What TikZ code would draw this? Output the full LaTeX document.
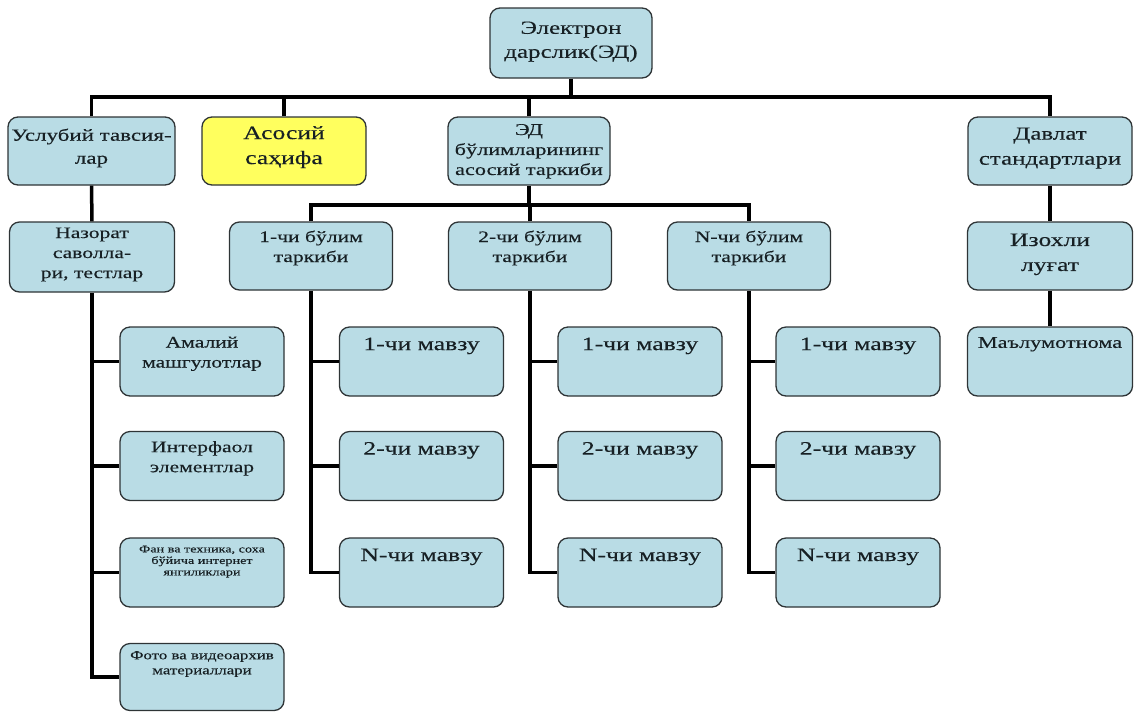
\documentclass[tikz,border=0pt]{standalone}
\usepackage{fontspec}
\setmainfont{Liberation Serif}[FakeStretch=1.35, FakeBold=0.3]

\definecolor{boxblue}{HTML}{B9DCE5}
\definecolor{boxyellow}{HTML}{FFFF5E}
\definecolor{boxline}{HTML}{2E3436}
\definecolor{boxtext}{HTML}{172024}

\newcommand{\boxfont}[2]{\fontsize{#1}{#2}\selectfont}

\tikzset{
  cbox/.style={draw=boxline, line width=1.3pt, fill=boxblue, rounded corners=10pt,
    minimum width=164pt, minimum height=69pt, inner sep=0pt},
  ybox/.style={cbox, fill=boxyellow},
  txt/.style={anchor=north, align=center, inner sep=0pt, text=boxtext},
  link/.style={line width=3.5pt, black},
}

\begin{document}
\begin{tikzpicture}[x=1pt, y=-1pt]
  \useasboundingbox (0,0) rectangle (1134,713);

  % top
  \node[cbox, minimum width=162pt, minimum height=70pt] (darslik) at (571,43) {};
  \node[txt, font=\boxfont{18.5}{24}] (darslik-t) at ([yshift=-14pt]darslik.north) {Электрон\\дарслик(ЭД)};

  % first row
  \node[cbox, minimum width=167pt, minimum height=68pt] (uslub) at (91.5,151) {};
  \node[txt, font=\boxfont{17}{23}] (uslub-t) at ([yshift=-12pt]uslub.north) {Услубий тавсия-\\лар};

  \node[ybox, minimum height=68pt] (asosiy) at (284,151) {};
  \node[txt, font=\boxfont{19}{25}] (asosiy-t) at ([yshift=-9.5pt]asosiy.north) {Асосий\\саҳифа};

  \node[cbox, minimum width=162pt, minimum height=68pt] (tarkib) at (529,151) {};
  \node[txt, font=\boxfont{16.5}{20}] (tarkib-t) at ([yshift=-7.5pt]tarkib.north) {ЭД\\бўлимларининг\\асосий таркиби};

  \node[cbox, minimum width=164pt, minimum height=68pt] (davlat) at (1050,151) {};
  \node[txt, font=\boxfont{18.5}{25}] (davlat-t) at ([yshift=-11pt]davlat.north) {Давлат\\стандартлари};

  % second row
  \node[cbox, minimum width=165pt, minimum height=70pt] (nazorat) at (92,257) {};
  \node[txt, font=\boxfont{16}{20}] (nazorat-t) at ([yshift=-6pt]nazorat.north) {Назорат\\саволла-\\ри, тестлар};

  \foreach \s/\x/\n in {1/311/1, 2/530/2, N/749/N}{
    \node[cbox, minimum width=163pt, minimum height=68pt] (bulim\s) at (\x,256) {};
    \node[txt, font=\boxfont{16}{20}] (bulim\s-t) at ([yshift=-9pt]bulim\s.north) {\n-чи бўлим\\таркиби};
  }

  \node[cbox, minimum width=165pt, minimum height=68pt] (izoh) at (1050,256) {};
  \node[txt, font=\boxfont{19}{25}] (izoh-t) at ([yshift=-12pt]izoh.north) {Изохли\\луғат};

  \node[cbox, minimum width=165pt] (malumot) at (1050,361.5) {};
  \node[txt, font=\boxfont{16.5}{20}] (malumot-t) at ([yshift=-10.5pt]malumot.north) {Маълумотнома};

  % left column
  \node[cbox] (amaliy) at (202,361.5) {};
  \node[txt, font=\boxfont{16}{20}] (amaliy-t) at ([yshift=-10pt]amaliy.north) {Амалий\\машгулотлар};

  \node[cbox] (interf) at (202,466) {};
  \node[txt, font=\boxfont{16}{20}] (interf-t) at ([yshift=-10pt]interf.north) {Интерфаол\\элементлар};

  \node[cbox] (fan) at (202,572.5) {};
  \node[txt, font=\boxfont{10.5}{11.5}] (fan-t) at ([yshift=-8pt]fan.north) {Фан ва техника, соха\\бўйича интернет\\янгиликлари};

  \node[cbox, minimum height=67pt] (foto) at (202,677) {};
  \node[txt, font=\boxfont{12.5}{15}] (foto-t) at ([yshift=-8pt]foto.north) {Фото ва видеоархив\\материаллари};

  % topics
  \foreach \s/\x in {1/421.5, 2/640, N/858}{
    \foreach \r/\y/\t in {1/361.5/1-чи мавзу, 2/466/2-чи мавзу, 3/572.5/N-чи мавзу}{
      \node[cbox] (m\s\r) at (\x,\y) {};
      \node[txt, font=\boxfont{19}{24}] (m\s\r-t) at ([yshift=-11pt]m\s\r.north) {\t};
    }
  }

  % links
  \coordinate (bus1) at (571,97);
  \coordinate (bus2) at (531,205);
  \draw[link] (darslik) -- (bus1);
  \draw[link] (uslub.north) |- (bus1) -| (davlat.north);
  \draw[link] (asosiy.north) -- (asosiy.north |- bus1);
  \draw[link] (tarkib.north) -- (tarkib.north |- bus1);

  \draw[link] (tarkib.south) -- (tarkib.south |- bus2);
  \draw[link] (bulim1.north) |- (bus2) -| (bulimN.north);
  \draw[link] (bulim2.north) -- (bulim2.north |- bus2);

  \draw[link] (uslub) -- (nazorat);
  \draw[link] (davlat) -- (izoh);
  \draw[link] (izoh) -- (malumot);

  \draw[link] (nazorat.south) |- (foto.west);
  \foreach \n in {amaliy, interf, fan}{
    \draw[link] (nazorat.south |- \n.west) -- (\n.west);
  }

  \foreach \s in {1,2,N}{
    \draw[link] (bulim\s.south) |- (m\s3.west);
    \draw[link] (bulim\s.south |- m\s1.west) -- (m\s1.west);
    \draw[link] (bulim\s.south |- m\s2.west) -- (m\s2.west);
  }
\end{tikzpicture}
\end{document}
